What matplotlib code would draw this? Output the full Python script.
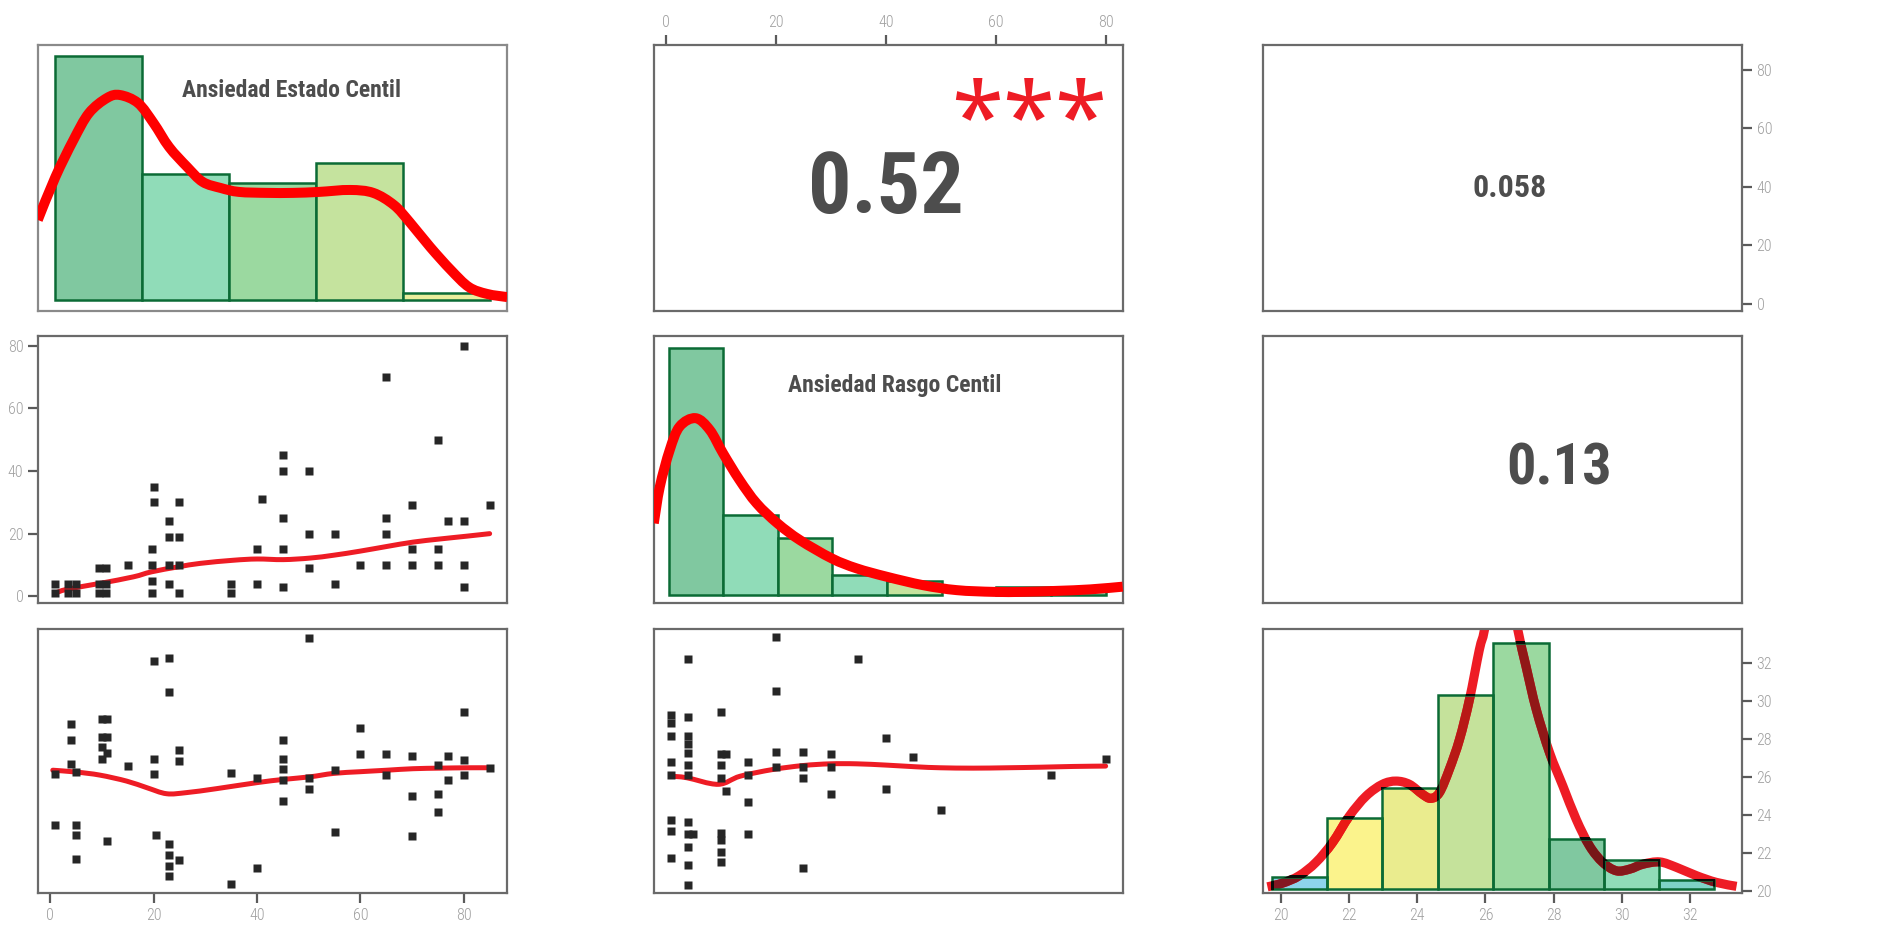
import numpy as np
import matplotlib
matplotlib.use("Agg")
import matplotlib.pyplot as plt
from matplotlib.patches import Rectangle, PathPatch
from matplotlib.path import Path
from matplotlib.font_manager import FontProperties
import matplotlib.colors as mcolors

NARROW = ['Roboto Condensed', 'Roboto', 'DejaVu Sans']
plt.rcParams['font.family'] = NARROW

# ---------------------------------------------------------------- data
var_names = ["Ansiedad Estado Centil", "Ansiedad Rasgo Centil", ""]
corr_values = [0.52, 0.058, 0.13]        # (1,2), (1,3), (2,3)
corr_stars = ["***", "", ""]

estado_lim = (-2.36, 88.36)
rasgo_lim = (-2.16, 83.16)
v3_lim = (19.48, 33.52)

# histogram of Ansiedad Estado Centil (relative heights)
estado_edges = [1, 17.8, 34.6, 51.4, 68.2, 85]
estado_heights = [1.0, 0.516, 0.48, 0.56, 0.029]
estado_colors = ["#80C8A0", "#90DCB8", "#9BD9A0", "#C5E39E", "#E9EE9C"]
estado_dens_x = [-2.4, 1, 4.5, 7.5, 11, 13.5, 17, 20, 23, 26.5, 29.5, 33, 36.5,
                 42, 47, 52, 58, 62.5, 66.5, 69.5, 73.5, 77.5, 81, 84.5, 88.4]
estado_dens_y = [0.328, 0.504, 0.656, 0.766, 0.828, 0.840, 0.807, 0.725, 0.627,
                 0.545, 0.484, 0.459, 0.443, 0.439, 0.439, 0.443, 0.451, 0.439,
                 0.389, 0.320, 0.217, 0.123, 0.053, 0.025, 0.012]

# histogram of Ansiedad Rasgo Centil
rasgo_edges = [0.5, 10.44, 20.38, 30.31, 40.25, 50.19, 60.13, 70.06, 80]
rasgo_heights = [1.0, 0.323, 0.229, 0.081, 0.058, 0.0, 0.034, 0.034]
rasgo_colors = ["#80C8A0", "#90DCB8", "#9BD9A0", "#90DCB8", "#C5E39E",
                "#9BD9A0", "#80C8A0", "#90DCB8"]
rasgo_dens_x = [-2.2, -1.1, 0.7, 2.5, 5.4, 8.0, 10.4, 13.4, 16.5, 20.3, 24.4,
                30.2, 34.7, 40.2, 46.8, 52.9, 59.6, 65.0, 71.1, 77.2, 83.1]
rasgo_dens_y = [0.29, 0.438, 0.586, 0.681, 0.715, 0.667, 0.573, 0.465, 0.371,
                0.29, 0.222, 0.148, 0.108, 0.074, 0.040, 0.020, 0.013, 0.013,
                0.017, 0.023, 0.034]

# histogram of the third variable
v3_edges = [19.75, 21.37, 22.98, 24.61, 26.23, 27.86, 29.47, 31.09, 32.70]
v3_heights = [0.050, 0.290, 0.408, 0.788, 1.0, 0.205, 0.118, 0.036]
v3_colors = ["#8DD4EC", "#FBF38C", "#EAEC8E", "#C5E29B", "#9BD9A0",
             "#80C8A0", "#90DCB8", "#7ED3C6"]
v3_dens_x = [19.61, 20.05, 20.54, 21.03, 21.52, 22.01, 22.50, 22.98, 23.38,
             23.77, 24.16, 24.40, 24.65, 24.94, 25.24, 25.53, 25.82, 25.97,
             26.2, 26.45, 26.7, 26.95, 27.19, 27.49, 27.88, 28.27, 28.66,
             29.05, 29.44, 29.84, 30.23, 30.62, 31.11, 31.60, 32.19, 32.77,
             33.36]
v3_dens_y = [0.009, 0.024, 0.054, 0.108, 0.189, 0.296, 0.377, 0.425, 0.438,
             0.425, 0.384, 0.368, 0.391, 0.485, 0.607, 0.768, 0.970, 1.051,
             1.25, 1.33, 1.25, 1.051, 0.903, 0.728, 0.553, 0.418, 0.283,
             0.175, 0.108, 0.074, 0.081, 0.101, 0.110, 0.088, 0.054, 0.027,
             0.011]

# Ansiedad Estado (x) vs Ansiedad Rasgo (y)
sc21_x = [1, 1, 3.5, 3.5, 5, 5, 9.5, 9.5, 9.5, 10.8, 10.8, 10.8, 15,
          19.6, 19.6, 19.6, 19.6, 20.1, 20.1, 23, 23, 23, 23, 25, 25, 25, 25,
          35, 35, 40, 40, 41, 45, 45, 45, 45, 45, 50, 50, 50, 55, 55, 60,
          65, 65, 65, 65, 70, 70, 70, 75, 75, 75, 77, 80, 80, 80, 80, 85]
sc21_y = [4, 1, 4, 1, 4, 1, 9, 4, 1, 9, 4, 1, 10,
          15, 10, 5, 1, 35, 30, 24, 19, 10, 4, 30, 19, 10, 1,
          4, 1, 15, 4, 31, 45, 40, 25, 15, 3, 40, 20, 9, 20, 4, 10,
          70, 25, 20, 10, 29, 15, 10, 50, 15, 10, 24, 80, 24, 10, 3, 29]
loess21_x = [1, 3.2, 9.6, 16.1, 19.6, 24.8, 29, 35.4, 40, 45.1, 50.3, 54.8,
             59.9, 65.1, 70.2, 75.4, 80.6, 85]
loess21_y = [1.0, 2.2, 4.1, 6.2, 7.8, 9.4, 10.5, 11.5, 11.9, 11.7, 12.2, 13.1,
             14.4, 15.9, 17.3, 18.3, 19.2, 20.0]

# Ansiedad Estado (x) vs third variable (y)
sc31_x = [1, 1, 4, 4, 4, 5, 5, 5, 5, 10, 10, 10, 10, 11, 11, 11, 11, 15,
          20, 20, 20, 20.4, 23, 23, 23, 23, 23, 23, 25, 25, 25, 35, 35,
          40, 40, 45, 45, 45, 45, 45, 50, 50, 50, 55, 55, 60, 60, 65, 65,
          70, 70, 70, 75, 75, 75, 77, 77, 80, 80, 80, 85]
sc31_y = [25.80, 23.12, 28.47, 27.63, 26.35, 25.93, 23.12, 22.55, 21.30,
          28.74, 27.75, 27.22, 26.63, 28.74, 27.75, 26.92, 22.27, 26.21,
          31.83, 26.63, 25.80, 22.55, 31.97, 30.15, 22.06, 21.49, 20.93, 20.36,
          27.06, 26.48, 21.23, 25.86, 19.95, 25.57, 20.79,
          27.63, 26.63, 26.07, 25.47, 24.37, 33.05, 25.57, 25.00,
          26.01, 22.70, 28.28, 26.86, 26.86, 25.75, 26.74, 24.62, 22.50,
          26.30, 24.76, 23.77, 26.74, 25.47, 29.12, 26.56, 25.75, 26.14]
loess31_x = [0.5, 5.1, 9.6, 14.8, 18.7, 22.5, 26.4, 32.2, 40.0, 45.1, 50.3,
             54.8, 59.9, 65.1, 70.2, 75.4, 80.6, 85]
loess31_y = [26.01, 25.91, 25.75, 25.43, 25.08, 24.76, 24.82, 25.03, 25.35,
             25.52, 25.66, 25.84, 25.93, 26.01, 26.09, 26.12, 26.14, 26.14]

# Ansiedad Rasgo (x) vs third variable (y)
sc32_x = [1, 1, 1, 1, 1, 1, 1, 1,
          4, 4, 4, 4, 4, 4, 4, 4, 4, 4, 4, 4, 5,
          10, 10, 10, 10, 10, 10, 10, 10, 11, 11,
          15, 15, 15, 15, 20, 20, 20, 20, 25, 25, 25, 25, 30, 30, 30,
          35, 40, 40, 45, 50, 70, 80]
sc32_y = [28.97, 28.53, 27.85, 26.44, 25.75, 23.35, 22.78, 21.32,
          31.92, 28.84, 27.82, 27.38, 26.94, 26.30, 25.75, 23.23, 22.64,
          21.95, 20.96, 19.90, 22.64,
          29.11, 26.85, 26.30, 25.59, 22.66, 22.30, 21.64, 21.11, 26.85, 24.90,
          26.44, 25.75, 24.34, 22.64, 33.12, 30.24, 26.99, 26.16,
          26.99, 26.16, 25.59, 20.82, 26.85, 26.16, 24.76,
          31.92, 27.71, 25.03, 26.72, 23.92, 25.75, 26.58]
loess32_x = [1, 3.8, 9.5, 13.5, 19.5, 25.0, 29.9, 34.7, 40.2, 45.6, 49.9,
             55.9, 62.0, 68.1, 74.1, 80]
loess32_y = [25.69, 25.61, 25.26, 25.69, 26.05, 26.26, 26.35, 26.35, 26.28,
             26.19, 26.14, 26.12, 26.14, 26.17, 26.21, 26.23]

ticks_centil = [0, 20, 40, 60, 80]
ticks_v3 = [20, 22, 24, 26, 28, 30, 32]

# ---------------------------------------------------------------- style
W, H = 1888, 930
fig = plt.figure(figsize=(W / 100, H / 100), dpi=100)

col_px = [(38, 507), (654, 1123), (1263, 1742)]
row_px = [(45, 311), (336, 603), (629, 893)]

FRAME = "#6A6A6A"
TICKC = "#5A5A5A"
LABC = "#A0A0A0"
TXT = "#4D4D4D"
EDGE = "#0B6B35"
LOESS = "#EE1C25"
PT = "#262626"

tick_fp = FontProperties(family=NARROW, size=11.5, weight='light')


def smooth_path(xs, ys):
    """Cubic Bezier path passing through every (x, y) pair."""
    pts = np.column_stack([xs, ys]).astype(float)
    verts = [pts[0]]
    codes = [Path.MOVETO]
    n = len(pts)
    for i in range(n - 1):
        p0 = pts[i - 1] if i > 0 else pts[i]
        p1, p2 = pts[i], pts[i + 1]
        p3 = pts[i + 2] if i + 2 < n else pts[i + 1]
        verts += [p1 + (p2 - p0) / 6.0, p2 - (p3 - p1) / 6.0, p2]
        codes += [Path.CURVE4] * 3
    return Path(verts, codes)


def curve(ax, xs, ys, color, lw, zorder, cap='butt'):
    patch = PathPatch(smooth_path(xs, ys), facecolor='none', edgecolor=color,
                      lw=lw, zorder=zorder, capstyle=cap, joinstyle='round',
                      transform=ax.transData)
    ax.add_patch(patch)
    return patch


def panel(r, c):
    x0, x1 = col_px[c]
    y0, y1 = row_px[r]
    ax = fig.add_axes([x0 / W, 1 - y1 / H, (x1 - x0) / W, (y1 - y0) / H])
    ax.set_xticks([])
    ax.set_yticks([])
    for s in ax.spines.values():
        s.set_color(FRAME)
        s.set_linewidth(1.6)
    return ax


def style_ticks(ax, which, ticks):
    if which in ("top", "bottom"):
        ax.set_xticks(ticks)
        ax.xaxis.set_ticks_position(which)
        axis = ax.xaxis
        ax.tick_params(axis='x', top=(which == "top"), bottom=(which == "bottom"),
                       labeltop=(which == "top"), labelbottom=(which == "bottom"))
        name = 'x'
    else:
        ax.set_yticks(ticks)
        ax.yaxis.set_ticks_position(which)
        axis = ax.yaxis
        ax.tick_params(axis='y', left=(which == "left"), right=(which == "right"),
                       labelleft=(which == "left"), labelright=(which == "right"))
        name = 'y'
    ax.tick_params(axis=name, length=7.5, width=1.6, color=TICKC, pad=3,
                   labelcolor=LABC)
    for lab in axis.get_ticklabels():
        lab.set_fontproperties(tick_fp)


def diag_hist(ax, edges, heights, colors, lim, ylim, dens_x, dens_y, name,
              name_xy, dens_color, dens_lw):
    ax.set_xlim(*lim)
    ax.set_ylim(*ylim)
    for i, h in enumerate(heights):
        if h <= 0:
            continue
        ax.add_patch(Rectangle((edges[i], 0), edges[i + 1] - edges[i], h,
                               facecolor=colors[i], edgecolor=EDGE,
                               linewidth=1.8, zorder=2))
    curve(ax, dens_x, dens_y, dens_color, dens_lw, 3)
    if name:
        ax.text(name_xy[0], name_xy[1], name, transform=ax.transAxes,
                ha='center', va='baseline', fontsize=17, color=TXT,
                fontweight='bold', zorder=4)


def scatter_panel(ax, xs, ys, lx, ly, xlim, ylim):
    ax.set_xlim(*xlim)
    ax.set_ylim(*ylim)
    curve(ax, lx, ly, LOESS, 3.6, 2, cap='round')
    ax.plot(xs, ys, linestyle='none', marker='s', ms=5.3, mfc=PT, mec='none',
            zorder=3)


def corr_panel(ax, value, stars, xy, size, stars_xy=None):
    txt = f"{value:.2g}"
    ax.text(xy[0], xy[1], txt, transform=ax.transAxes, ha='center',
            va='baseline', fontsize=size, color=TXT, fontweight='bold')
    if stars:
        ax.text(stars_xy[0], stars_xy[1], stars, transform=ax.transAxes,
                ha='center', va='center', fontsize=68, color="#EE1C25",
                fontweight='bold', family=['Noto Sans', 'DejaVu Sans'])


# ---------------------------------------------------------------- row 1
ax11 = panel(0, 0)
for s in ax11.spines.values():
    s.set_color("#8A8A8A")
diag_hist(ax11, estado_edges, estado_heights, estado_colors, estado_lim,
          (-0.045, 1.045), estado_dens_x, estado_dens_y, var_names[0],
          (0.54, 0.803), "#FF0000", 7.2)

ax12 = panel(0, 1)
ax12.set_xlim(*rasgo_lim)
style_ticks(ax12, "top", ticks_centil)
corr_panel(ax12, corr_values[0], corr_stars[0], (0.495, 0.367), 62,
           stars_xy=(0.80, 0.70))

ax13 = panel(0, 2)
ax13.set_ylim(*estado_lim)
style_ticks(ax13, "right", ticks_centil)
corr_panel(ax13, corr_values[1], corr_stars[1], (0.515, 0.43), 23)

# ---------------------------------------------------------------- row 2
ax21 = panel(1, 0)
scatter_panel(ax21, sc21_x, sc21_y, loess21_x, loess21_y, estado_lim, rasgo_lim)
style_ticks(ax21, "left", ticks_centil)

ax22 = panel(1, 1)
diag_hist(ax22, rasgo_edges, rasgo_heights, rasgo_colors, rasgo_lim,
          (-0.032, 1.047), rasgo_dens_x, rasgo_dens_y, var_names[1],
          (0.514, 0.791), "#FF0000", 7.2)

ax23 = panel(1, 2)
corr_panel(ax23, corr_values[2], corr_stars[2], (0.618, 0.442), 42)

# ---------------------------------------------------------------- row 3
ax31 = panel(2, 0)
scatter_panel(ax31, sc31_x, sc31_y, loess31_x, loess31_y, estado_lim, v3_lim)
style_ticks(ax31, "bottom", ticks_centil)

ax32 = panel(2, 1)
scatter_panel(ax32, sc32_x, sc32_y, loess32_x, loess32_y, rasgo_lim, v3_lim)

ax33 = panel(2, 2)
ax33.set_xlim(*v3_lim)
ax33.set_ylim(-0.016, 1.055)
style_ticks(ax33, "bottom", ticks_v3)
RED3 = np.array(mcolors.to_rgb("#EE1C25"))
EDGE_RGB = np.array(mcolors.to_rgb(EDGE))
lw3 = 6.6
# bar fills
for i, h in enumerate(v3_heights):
    ax33.add_patch(Rectangle((v3_edges[i], 0), v3_edges[i + 1] - v3_edges[i], h,
                             facecolor=v3_colors[i], edgecolor='none', zorder=1))
# density line
curve(ax33, v3_dens_x, v3_dens_y, "#EE1C25", lw3, 2)
# the bars tint the line where they overlap it (multiplicative)
for i, h in enumerate(v3_heights):
    rect = Rectangle((v3_edges[i], 0), v3_edges[i + 1] - v3_edges[i], h,
                     transform=ax33.transData)
    tint = np.array(mcolors.to_rgb(v3_colors[i])) * RED3
    seg = curve(ax33, v3_dens_x, v3_dens_y, tint, lw3, 3)
    seg.set_clip_path(rect)
# bar outlines
for i, h in enumerate(v3_heights):
    ax33.add_patch(Rectangle((v3_edges[i], 0), v3_edges[i + 1] - v3_edges[i], h,
                             facecolor='none', edgecolor=EDGE, linewidth=1.8,
                             zorder=4))
# outline pieces under the line turn almost black
fig.canvas.draw()
p0 = ax33.transData.transform((v3_lim[0], 0))
p1 = ax33.transData.transform((v3_lim[1], 1))
hx = 1.3 * (v3_lim[1] - v3_lim[0]) / (p1[0] - p0[0])
hy = 1.3 * 1.0 / (p1[1] - p0[1])
verts, codes = [], []


def add_strip(xa, xb, ya, yb):
    verts.extend([(xa, ya), (xb, ya), (xb, yb), (xa, yb), (xa, ya)])
    codes.extend([Path.MOVETO, Path.LINETO, Path.LINETO, Path.LINETO,
                  Path.CLOSEPOLY])


for i, h in enumerate(v3_heights):
    a, b = v3_edges[i], v3_edges[i + 1]
    add_strip(a - hx, a + hx, -hy, h + hy)
    add_strip(b - hx, b + hx, -hy, h + hy)
    add_strip(a - hx, b + hx, h - hy, h + hy)
strip_path = Path(verts, codes)
dark = EDGE_RGB * RED3
seg = curve(ax33, v3_dens_x, v3_dens_y, dark, lw3, 5)
seg.set_clip_path(strip_path, ax33.transData)

ax33r = ax33.twinx()
ax33r.set_ylim(19.88, 33.81)
for s in ax33r.spines.values():
    s.set_visible(False)
style_ticks(ax33r, "right", ticks_v3)

fig.savefig("out.png", dpi=100, facecolor="white")
